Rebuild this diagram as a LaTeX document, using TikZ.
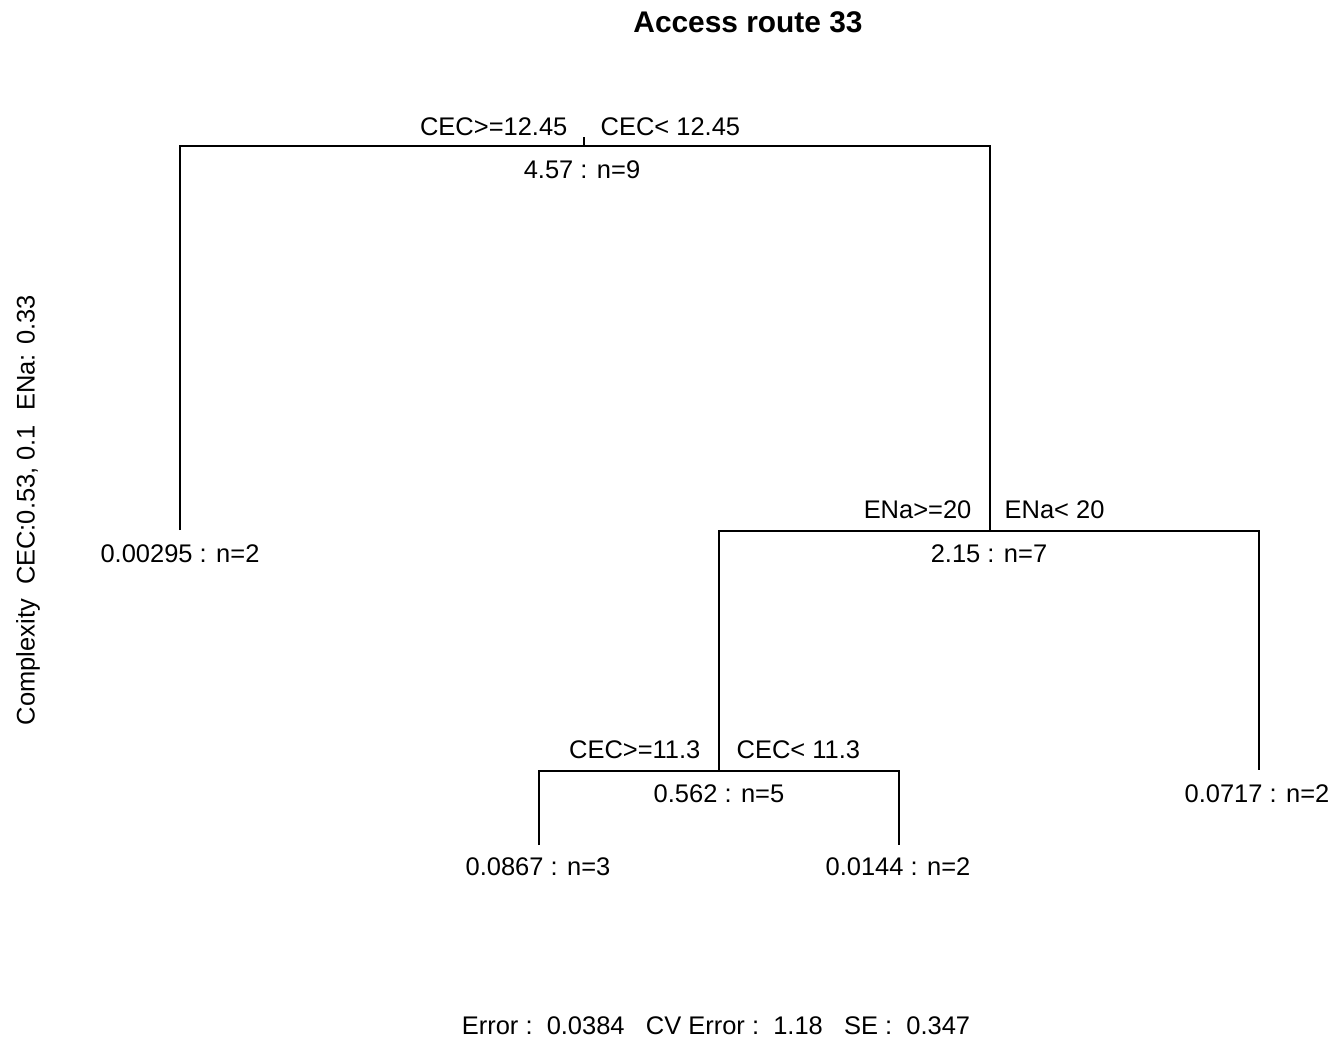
\documentclass[tikz,border=0pt]{standalone}
\usepackage{fontspec}
\setmainfont{Liberation Sans}
\usepackage{tikz}
\usetikzlibrary{positioning}

\begin{document}
\begin{tikzpicture}[
    x=0.02cm, y=-0.02cm,
    line width=0.7pt,
    lbl/.style={inner sep=0pt, font=\fontsize{14.5}{17}\selectfont},
]
    \useasboundingbox (0,0) rectangle (1337,1044);

    \node[lbl, font=\fontsize{17}{20}\selectfont\bfseries] (title) at (748,22) {Access route 33};
    \node[lbl, rotate=90] (cplx) at (28,510) {Complexity\ \ CEC:0.53, 0.1\ \ ENa: 0.33};
    \node[lbl] (err) at (716,1026) {Error :\ \ 0.0384\ \ \ CV Error :\ \ 1.18\ \ \ SE :\ \ 0.347};

    % splits and leaves
    \coordinate (root) at (584,146);
    \coordinate (ena) at (990,531);
    \coordinate (cec) at (719,771);
    \coordinate (leafA) at (180,530);
    \coordinate (leafB) at (539,845);
    \coordinate (leafC) at (899,845);
    \coordinate (leafD) at (1259,770);

    \draw (leafA) |- (root) -| (ena);
    \draw (root) -- ++(0,-9);
    \draw (cec) |- (ena) -| (leafD);
    \draw (leafB) |- (cec) -| (leafC);

    % split labels
    \node[lbl, anchor=east] (rootL) at (568,127) {CEC>=12.45};
    \node[lbl, anchor=west] (rootR) at (600,127) {CEC< 12.45};
    \node[lbl] (rootV) at (582,170) {4.57 : n=9};

    \node[lbl, anchor=east] (enaL) at (972,510) {ENa>=20};
    \node[lbl, anchor=west] (enaR) at (1004,510) {ENa< 20};
    \node[lbl] (enaV) at (989,554) {2.15 : n=7};

    \node[lbl, anchor=east] (cecL) at (701,750) {CEC>=11.3};
    \node[lbl, anchor=west] (cecR) at (736,750) {CEC< 11.3};
    \node[lbl] (cecV) at (719,794) {0.562 : n=5};

    % leaf labels
    \node[lbl] (leafAV) at (180,554) {0.00295 : n=2};
    \node[lbl] (leafBV) at (538,867) {0.0867 : n=3};
    \node[lbl] (leafCV) at (898,867) {0.0144 : n=2};
    \node[lbl] (leafDV) at (1257,794) {0.0717 : n=2};
\end{tikzpicture}
\end{document}
